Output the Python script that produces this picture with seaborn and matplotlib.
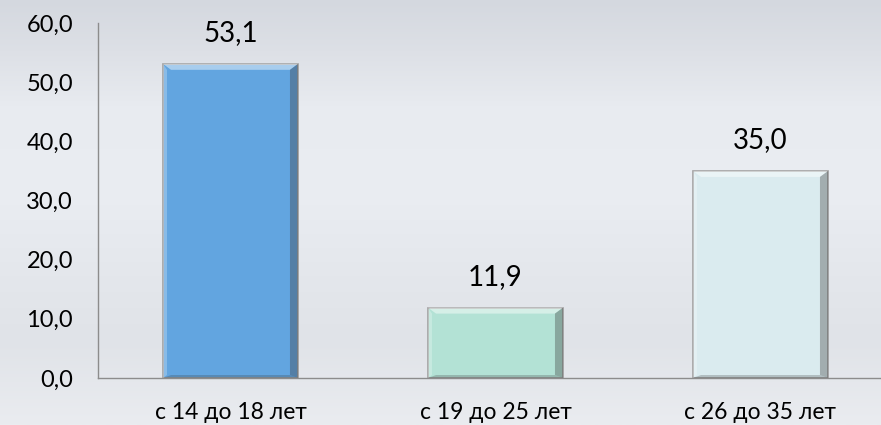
import matplotlib
matplotlib.use("Agg")
import matplotlib.pyplot as plt
import numpy as np
import pandas as pd
import seaborn as sns
from matplotlib.patches import Polygon

categories = ["с 14 до 18 лет", "с 19 до 25 лет", "с 26 до 35 лет"]
values = [53.1, 11.9, 35.0]
bar_colors = ["#62A5E0", "#B3E2D5", "#DAEBEF"]
y_ticks = [0, 10, 20, 30, 40, 50, 60]

sns.set_theme(style="white")
plt.rcParams["font.family"] = ["Lato", "DejaVu Sans"]

fig = plt.figure(figsize=(8.81, 4.25), dpi=100)

# background gradient
bg = fig.add_axes([0, 0, 1, 1], zorder=-10)
stops_y = [0.0, 0.12, 0.25, 0.45, 0.65, 0.8, 1.0]
stops_c = np.array([
    [212, 216, 223], [221, 224, 230], [232, 235, 240], [234, 237, 242],
    [228, 231, 236], [224, 227, 232], [234, 236, 240]]) / 255.0
yy = np.linspace(0, 1, 425)
grad = np.stack([np.interp(yy, stops_y, stops_c[:, i]) for i in range(3)], axis=-1)
bg.imshow(grad[:, None, :], aspect="auto", extent=[0, 1, 1, 0])
bg.set_axis_off()

ax = fig.add_axes([98 / 881, 47 / 425, 795 / 881, 355 / 425])
ax.patch.set_alpha(0)

df = pd.DataFrame({"group": categories, "value": values})
sns.barplot(data=df, x="group", y="value", hue="group", palette=bar_colors,
            width=0.51, legend=False, ax=ax, saturation=1,
            edgecolor="#a0a0a0", linewidth=1.2)

# bevel effect derived from each bar's geometry
for p in ax.patches:
    x0, y0 = p.get_x(), p.get_y()
    w, h = p.get_width(), p.get_height()
    dx = w * 0.06
    dy = 6 * 60 / 355
    top = Polygon([[x0, y0 + h], [x0 + w, y0 + h], [x0 + w - dx, y0 + h - dy],
                   [x0 + dx, y0 + h - dy]], closed=True, facecolor="white",
                  alpha=0.45, edgecolor="none", zorder=3)
    right = Polygon([[x0 + w, y0 + h], [x0 + w, y0], [x0 + w - dx, y0 + dy * 0.5],
                     [x0 + w - dx, y0 + h - dy]], closed=True, facecolor="#3a3a3a",
                    alpha=0.35, edgecolor="none", zorder=3)
    left = Polygon([[x0, y0 + h], [x0, y0], [x0 + dx * 0.5, y0 + dy * 0.5],
                    [x0 + dx * 0.5, y0 + h - dy]], closed=True, facecolor="white",
                   alpha=0.25, edgecolor="none", zorder=3)
    bottom = Polygon([[x0, y0], [x0 + w, y0], [x0 + w - dx, y0 + dy * 0.5],
                      [x0 + dx, y0 + dy * 0.5]], closed=True, facecolor="#3a3a3a",
                     alpha=0.25, edgecolor="none", zorder=3)
    for poly in (top, right, left, bottom):
        ax.add_patch(poly)

for i, v in enumerate(values):
    ax.text(i, v + 3.0, f"{v:.1f}".replace(".", ","), ha="center", va="bottom",
            fontsize=20, color="black")

ax.set_ylim(0, 60)
ax.set_xlim(-0.5, 2.5)
ax.set_yticks(y_ticks)
ax.set_yticklabels([f"{t:.1f}".replace(".", ",") for t in y_ticks], fontsize=17)
ax.set_xticks(range(len(categories)))
ax.set_xticklabels(categories, fontsize=16.5)
ax.set_xticks([-0.5, 0.5, 1.5, 2.5], minor=True)
ax.tick_params(axis="x", which="major", length=0, pad=17, colors="black")
ax.tick_params(axis="x", which="minor", length=7, width=1, color="#8c8c8c", direction="out")
ax.tick_params(axis="y", length=7, width=1, color="#8c8c8c", direction="out", pad=11)
for lbl in ax.get_yticklabels() + ax.get_xticklabels():
    lbl.set_color("black")
ax.set_xlabel("")
ax.set_ylabel("")
for s in ["top", "right"]:
    ax.spines[s].set_visible(False)
for s in ["left", "bottom"]:
    ax.spines[s].set_color("#8c8c8c")
    ax.spines[s].set_linewidth(1)

fig.savefig("out.png", dpi=100)
